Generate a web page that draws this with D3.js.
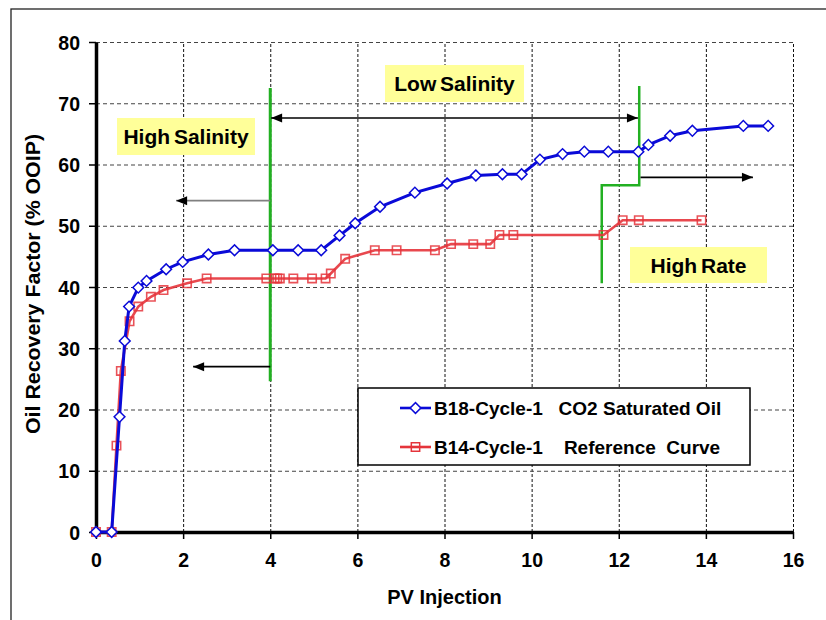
<!DOCTYPE html>
<html>
<head>
<meta charset="utf-8">
<script src="https://cdn.jsdelivr.net/npm/d3@7"></script>
<style>
  html, body { margin: 0; padding: 0; background: #fff; }
  svg { display: block; font-family: "Liberation Sans", Arial, sans-serif; font-weight: bold; }
</style>
</head>
<body>
<svg id="chart" width="826" height="620"></svg>
<script>
// B18 cycle 1, CO2 saturated oil
const b18PV = [0, 0.36, 0.54, 0.66, 0.76, 0.97, 1.16, 1.61, 1.99, 2.58, 3.18, 4.06, 4.64, 5.17, 5.59, 5.95, 6.52, 7.32, 8.06, 8.72, 9.33, 9.77, 10.19, 10.71, 11.21, 11.76, 12.45, 12.68, 13.18, 13.69, 14.86, 15.43];
const b18RF = [0, 0, 18.8, 31.2, 36.8, 39.9, 41.0, 42.9, 44.1, 45.3, 46.0, 46.0, 46.0, 46.0, 48.4, 50.4, 53.1, 55.4, 56.9, 58.2, 58.4, 58.4, 60.8, 61.7, 62.1, 62.1, 62.1, 63.2, 64.7, 65.5, 66.3, 66.3];

// B14 cycle 1, reference curve
const b14PV = [0, 0.36, 0.47, 0.57, 0.77, 0.97, 1.26, 1.55, 2.09, 2.54, 3.91, 4.10, 4.16, 4.22, 4.53, 4.96, 5.27, 5.39, 5.72, 6.40, 6.90, 7.78, 8.15, 8.66, 9.05, 9.26, 9.58, 11.65, 12.09, 12.46, 13.90];
const b14RF = [0, 0, 14.1, 26.3, 34.4, 36.8, 38.4, 39.5, 40.6, 41.4, 41.4, 41.4, 41.4, 41.4, 41.4, 41.4, 41.4, 42.2, 44.6, 46.0, 46.0, 46.0, 47.0, 47.0, 47.0, 48.5, 48.5, 48.5, 50.9, 50.9, 50.9];

const xTicks = [0, 2, 4, 6, 8, 10, 12, 14, 16];
const yTicks = [0, 10, 20, 30, 40, 50, 60, 70, 80];

const seriesNames = ["B18-Cycle-1   CO2 Saturated Oil", "B14-Cycle-1    Reference  Curve"];
const stageLabels = ["High Salinity", "Low Salinity", "High Rate"];

const svg = d3.select("#chart");
const plot = { left: 96, right: 793, top: 42, bottom: 532 };

const x = d3.scaleLinear().domain([0, 16]).range([plot.left, plot.right]);
const y = d3.scaleLinear().domain([0, 80]).range([plot.bottom, plot.top]);

// outer frame
svg.append("rect").attr("x", 11).attr("y", 9).attr("width", 830).attr("height", 630)
  .attr("fill", "#fff").attr("stroke", "#222").attr("stroke-width", 1.3);

// grid
svg.append("g").attr("transform", `translate(0,${plot.bottom})`)
  .call(d3.axisBottom(x).tickValues(xTicks.slice(1)).tickSize(-(plot.bottom - plot.top)).tickFormat(""))
  .call(g => g.select(".domain").remove())
  .call(g => g.selectAll("line").attr("stroke", "#111").attr("stroke-width", 1).attr("stroke-dasharray", "3,2"));
svg.append("g").attr("transform", `translate(${plot.left},0)`)
  .call(d3.axisLeft(y).tickValues(yTicks.slice(1)).tickSize(-(plot.right - plot.left)).tickFormat(""))
  .call(g => g.select(".domain").remove())
  .call(g => g.selectAll("line").attr("stroke", "#444").attr("stroke-width", 1.2).attr("stroke-dasharray", "4,3"));

// axes
const xAxis = svg.append("g").attr("transform", `translate(0,${plot.bottom})`)
  .call(d3.axisBottom(x).tickValues(xTicks).tickSize(7).tickPadding(14).tickSizeOuter(0));
const yAxis = svg.append("g").attr("transform", `translate(${plot.left},0)`)
  .call(d3.axisLeft(y).tickValues(yTicks).tickSize(7).tickPadding(9).tickSizeOuter(0));
[xAxis, yAxis].forEach(a => {
  a.select(".domain").attr("stroke", "#000").attr("stroke-width", 3.5);
  a.selectAll(".tick line").attr("stroke", "#000").attr("stroke-width", 1.5);
  a.selectAll("text").attr("fill", "#000").attr("font-size", 19.5).attr("font-weight", "bold")
    .attr("font-family", "'Liberation Sans', Arial, sans-serif");
});
yAxis.selectAll("text").attr("dy", "0.36em");

svg.append("text").attr("x", (x(0) + x(16)) / 2).attr("y", 604).attr("text-anchor", "middle")
  .attr("font-size", 20).text("PV Injection");
svg.append("text").attr("transform", `translate(40,${(plot.top + plot.bottom) / 2 - 3}) rotate(-90)`)
  .attr("text-anchor", "middle").attr("font-size", 20.5)
  .attr("textLength", 300).attr("lengthAdjust", "spacingAndGlyphs")
  .text("Oil Recovery Factor (% OOIP)");

// stage boundaries
const green = "#22b022";
svg.append("line").attr("x1", x(4)).attr("x2", x(4)).attr("y1", y(72.5)).attr("y2", y(24.6))
  .attr("stroke", green).attr("stroke-width", 3);
svg.append("path")
  .attr("d", d3.line().x(d => x(d[0])).y(d => y(d[1]))([[12.47, 72.8], [12.47, 56.6], [11.61, 56.6], [11.61, 40.6]]))
  .attr("fill", "none").attr("stroke", green).attr("stroke-width", 2.5);

// direction arrows
function arrow(x0, x1, yv, color, both) {
  const py = y(yv), a = x(x0), b = x(x1);
  svg.append("line").attr("x1", a).attr("x2", b).attr("y1", py).attr("y2", py)
    .attr("stroke", color).attr("stroke-width", 1.6);
  const head = (tip, dir) => svg.append("path")
    .attr("d", `M${tip},${py} L${tip - dir * 11},${py - 4.5} L${tip - dir * 11},${py + 4.5} Z`)
    .attr("fill", "#000");
  head(b, Math.sign(b - a));
  if (both) head(a, Math.sign(a - b));
}
arrow(4.02, 12.44, 67.6, "#000", true);
arrow(4.0, 1.84, 54.1, "#808080", false);
arrow(4.0, 2.23, 27.0, "#000", false);
arrow(12.5, 15.08, 57.9, "#000", false);

// stage labels
const labelBoxes = [
  { text: stageLabels[0], x0: 117, x1: 255, y0: 118, y1: 155 },
  { text: stageLabels[1], x0: 385, x1: 524, y0: 65, y1: 102 },
  { text: stageLabels[2], x0: 630, x1: 767, y0: 247, y1: 283 }
];
labelBoxes.forEach(d => {
  svg.append("rect").attr("x", d.x0).attr("y", d.y0).attr("width", d.x1 - d.x0).attr("height", d.y1 - d.y0)
    .attr("fill", "#ffff99");
  svg.append("text").attr("x", (d.x0 + d.x1) / 2).attr("y", (d.y0 + d.y1) / 2 + 7.5)
    .attr("text-anchor", "middle").attr("font-size", 21).attr("word-spacing", -2).text(d.text);
});

// series
const blue = "#0a0ad8", red = "#e5343b";
const diamond = d3.symbol(d3.symbolSquare, 58);
const square = d3.symbol(d3.symbolSquare, 70);
const b18 = b18PV.map((v, i) => [v, b18RF[i]]);
const b14 = b14PV.map((v, i) => [v, b14RF[i]]);
const line = d3.line().x(d => x(d[0])).y(d => y(d[1]));

svg.append("path").attr("d", line(b14)).attr("fill", "none").attr("stroke", red)
  .attr("stroke-width", 2.6).attr("stroke-opacity", 0.9);
svg.append("g").selectAll("path").data(b14).join("path")
  .attr("d", square).attr("transform", d => `translate(${x(d[0])},${y(d[1])})`)
  .attr("fill", "none").attr("stroke", red).attr("stroke-width", 1.6).attr("stroke-opacity", 0.85);

svg.append("path").attr("d", line(b18)).attr("fill", "none").attr("stroke", blue).attr("stroke-width", 3);
svg.append("g").selectAll("path").data(b18).join("path")
  .attr("d", diamond).attr("transform", d => `translate(${x(d[0])},${y(d[1])}) rotate(45)`)
  .attr("fill", "#fff").attr("stroke", blue).attr("stroke-width", 1.5);

// legend
const lg = svg.append("g");
lg.append("rect").attr("x", 358).attr("y", 388).attr("width", 392).attr("height", 77)
  .attr("fill", "#fff").attr("stroke", "#000").attr("stroke-width", 1.5);
[[blue, diamond, 408, 45, "#fff"], [red, square, 447, 0, "none"]].forEach(([c, sym, ly, rot, fill], i) => {
  lg.append("line").attr("x1", 400).attr("x2", 431).attr("y1", ly).attr("y2", ly)
    .attr("stroke", c).attr("stroke-width", 2.6);
  lg.append("path").attr("d", sym).attr("transform", `translate(415.5,${ly}) rotate(${rot})`)
    .attr("fill", fill).attr("stroke", c).attr("stroke-width", 1.5);
  lg.append("text").attr("x", 434).attr("y", ly + 7).attr("font-size", 19)
    .style("white-space", "pre").text(seriesNames[i]);
});
</script>
</body>
</html>
